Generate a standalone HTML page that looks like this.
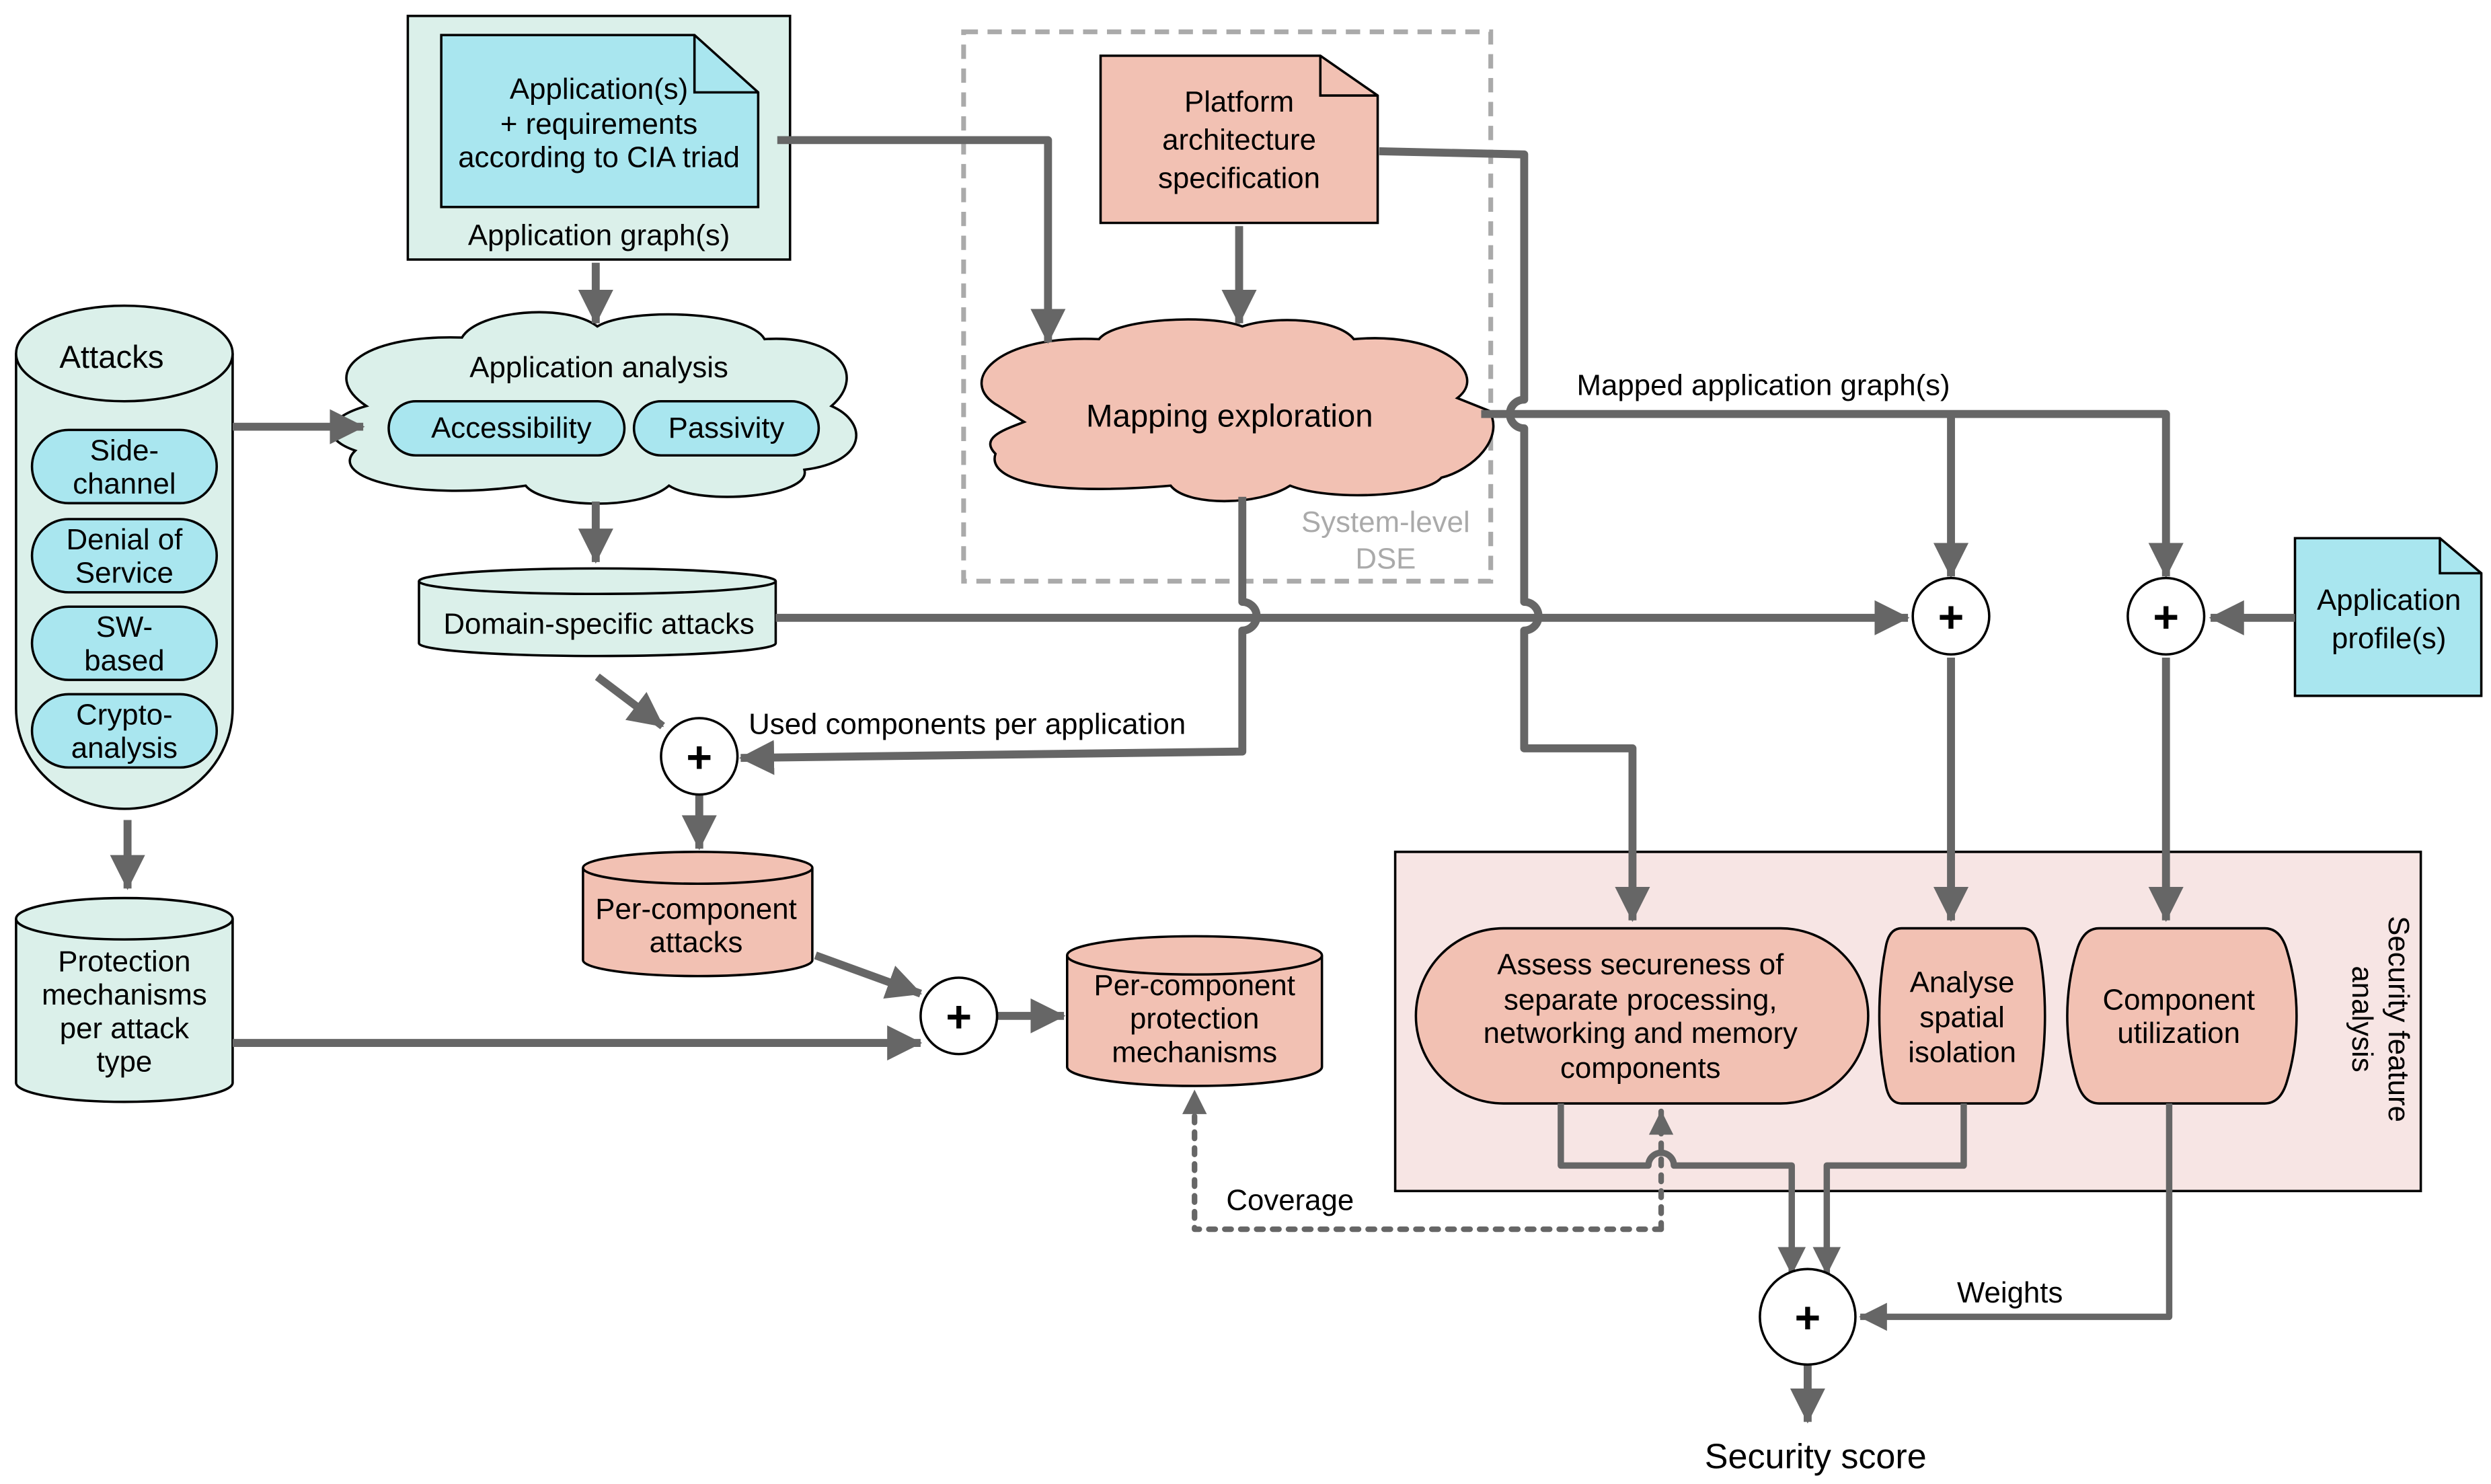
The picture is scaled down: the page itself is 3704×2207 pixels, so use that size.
<!DOCTYPE html>
<html><head><meta charset="utf-8"><style>html,body{margin:0;padding:0;background:#fff}svg{display:block}</style></head>
<body>
<svg width="3704" height="2207" viewBox="0 0 1564 932" xmlns="http://www.w3.org/2000/svg" font-family="Liberation Sans, sans-serif" font-size="18.5" text-anchor="middle">
<defs>
<marker id="a" markerWidth="5" markerHeight="5" refX="4.2" refY="2.5" orient="auto" markerUnits="strokeWidth"><path d="M0,0.3 L4.4,2.5 L0,4.7 Z" fill="#666"/></marker>
</defs>
<g stroke="#000" stroke-width="1.5">
<rect x="605" y="20" width="331" height="345" fill="none" stroke="#aaa" stroke-width="3" stroke-dasharray="9,6"/>
<rect x="256" y="10" width="240" height="153" fill="#dbf0ea"/>
<path d="M277,22 H436 L476,58 V130 H277 Z" fill="#a9e6ef"/>
<path d="M436,22 V58 H476" fill="none"/>
<path d="M691,35 H829 L865,60 V140 H691 Z" fill="#f2c1b3"/>
<path d="M829,35 V60 H865" fill="none"/>
<path d="M1441,338 H1532 L1558,360 V437 H1441 Z" fill="#a9e6ef"/>
<path d="M1532,338 V360 H1558" fill="none"/>
<path d="M10,222 V445 A68,63 0 0 0 146,445 V222" fill="#dbf0ea"/>
<ellipse cx="78" cy="222" rx="68" ry="30" fill="#dbf0ea"/>
<rect x="20" y="270" width="116" height="46" rx="23" fill="#a9e6ef"/>
<rect x="20" y="326" width="116" height="46" rx="23" fill="#a9e6ef"/>
<rect x="20" y="381" width="116" height="46" rx="23" fill="#a9e6ef"/>
<rect x="20" y="436" width="116" height="46" rx="23" fill="#a9e6ef"/>
<path d="M10,577 V680 A68,12 0 0 0 146,680 V577" fill="#dbf0ea"/>
<ellipse cx="78" cy="577" rx="68" ry="13" fill="#dbf0ea"/>
<path d="M263,365 V404 A112,8 0 0 0 487,404 V365" fill="#dbf0ea"/>
<ellipse cx="375" cy="365" rx="112" ry="8" fill="#dbf0ea"/>
<path d="M366,545 V603 A72,10 0 0 0 510,603 V545" fill="#f2c1b3"/>
<ellipse cx="438" cy="545" rx="72" ry="10" fill="#f2c1b3"/>
<path d="M670,600 V670 A80,12 0 0 0 830,670 V600" fill="#f2c1b3"/>
<ellipse cx="750" cy="600" rx="80" ry="12" fill="#f2c1b3"/>
<path d="M230,255 C200,235 225,210 290,212 C300,195 355,190 375,205 C395,193 470,195 480,213 C525,210 545,235 522,255 C545,265 545,290 505,295 C510,312 440,318 420,305 C400,322 340,318 330,305 C260,315 205,300 223,283 C200,275 205,262 230,255 Z" fill="#dbf0ea"/>
<rect x="244" y="252" width="148" height="34" rx="17" fill="#a9e6ef"/>
<rect x="398" y="252" width="116" height="34" rx="17" fill="#a9e6ef"/>
<path d="M627,255 C600,240 625,210 690,213 C700,200 760,197 780,205 C800,198 840,200 850,213 C905,208 935,235 915,250 L935,258 C945,275 925,295 905,300 C895,312 835,315 810,305 C790,318 745,318 735,305 C650,312 620,300 625,285 C615,275 630,270 643,265 Z" fill="#f2c1b3"/>
<rect x="876" y="535" width="644" height="213" fill="#f7e5e4"/>
<rect x="889" y="583" width="284" height="110" rx="55" fill="#f2c1b3"/>
<path d="M1194,583 H1270 Q1278,583 1280,595 Q1284,615 1284,638 Q1284,661 1280,681 Q1278,693 1270,693 H1194 Q1186,693 1184,681 Q1180,661 1180,638 Q1180,615 1184,595 Q1186,583 1194,583 Z" fill="#f2c1b3"/>
<path d="M1318,583 H1422 Q1432,583 1436,597 Q1442,617 1442,638 Q1442,659 1436,679 Q1432,693 1422,693 H1318 Q1308,693 1304,679 Q1298,659 1298,638 Q1298,617 1304,597 Q1308,583 1318,583 Z" fill="#f2c1b3"/>
</g>
<g stroke="#666" stroke-width="5" fill="none" stroke-linejoin="round">
<path d="M374,165 V203" marker-end="url(#a)"/>
<path d="M146,268 H228" marker-end="url(#a)"/>
<path d="M374,315 V353" marker-end="url(#a)"/>
<path d="M80,515 V558" marker-end="url(#a)"/>
<path d="M487,388 H1198" marker-end="url(#a)"/>
<path d="M375,425 L416,456" marker-end="url(#a)"/>
<path d="M780,312 V378 A8,8 0 0 1 780,396 V472 L465,476" marker-end="url(#a)"/>
<path d="M439,499 V533" marker-end="url(#a)"/>
<path d="M512,600 L578,624" marker-end="url(#a)"/>
<path d="M146,655 H578" marker-end="url(#a)"/>
<path d="M626,638 H668" marker-end="url(#a)"/>
<path d="M778,142 V203" marker-end="url(#a)"/>
<path d="M488,88 H658 V215" marker-end="url(#a)"/>
<path d="M866,95 L957,97 V251 A8,8 0 0 0 957,269 V378 A8,8 0 0 1 957,396 V470 H1025 V578" marker-end="url(#a)"/>
<path d="M930,260 H1360 V362" marker-end="url(#a)"/>
<path d="M1225,260 V362" marker-end="url(#a)"/>
<path d="M1441,388 H1388" marker-end="url(#a)"/>
<path d="M1225,413 V578" marker-end="url(#a)"/>
<path d="M1360,413 V578" marker-end="url(#a)"/>
<path d="M980,693 V732 H1035 A8,8 0 0 1 1051,732 H1125 V800" stroke-width="4" marker-end="url(#a)"/>
<path d="M1233,693 V732 H1147 V800" stroke-width="4" marker-end="url(#a)"/>
<path d="M1362,693 V827 H1168" stroke-width="4" marker-end="url(#a)"/>
<path d="M1135,857 V893" marker-end="url(#a)"/>
<path d="M1043,772 H750 V685" stroke-width="3.5" stroke-dasharray="4,6" stroke-linecap="round" marker-end="url(#a)"/>
<path d="M1043,772 V698" stroke-width="3.5" stroke-dasharray="4,6" stroke-linecap="round" marker-end="url(#a)"/>
</g>
<g stroke="#000" stroke-width="1.5" fill="#fff">
<ellipse cx="439" cy="475" rx="24" ry="24"/>
<ellipse cx="602" cy="638" rx="24" ry="24"/>
<ellipse cx="1225" cy="387" rx="24" ry="24"/>
<ellipse cx="1360" cy="387" rx="24" ry="24"/>
<ellipse cx="1135" cy="827" rx="30" ry="30"/>
</g>
<g font-size="28" font-weight="bold" fill="#000">
<text x="439" y="485">+</text><text x="602" y="648">+</text><text x="1225" y="397">+</text><text x="1360" y="397">+</text><text x="1135" y="837">+</text>
</g>
<g fill="#000">
<text x="376" y="62">Application(s)</text>
<text x="376" y="84">+ requirements</text>
<text x="376" y="105">according to CIA triad</text>
<text x="376" y="154">Application graph(s)</text>
<text x="778" y="70">Platform</text>
<text x="778" y="94">architecture</text>
<text x="778" y="118">specification</text>
<text x="70" y="231" font-size="20">Attacks</text>
<text x="78" y="289">Side-</text><text x="78" y="310">channel</text>
<text x="78" y="345">Denial of</text><text x="78" y="366">Service</text>
<text x="78" y="400">SW-</text><text x="78" y="421">based</text>
<text x="78" y="455">Crypto-</text><text x="78" y="476">analysis</text>
<text x="376" y="237">Application analysis</text>
<text x="321" y="275">Accessibility</text>
<text x="456" y="275">Passivity</text>
<text x="772" y="268" font-size="20">Mapping exploration</text>
<text x="870" y="334" fill="#aaa">System-level</text>
<text x="870" y="357" fill="#aaa">DSE</text>
<text x="376" y="398">Domain-specific attacks</text>
<text x="470" y="461" text-anchor="start">Used components per application</text>
<text x="990" y="248" text-anchor="start">Mapped application graph(s)</text>
<text x="1500" y="383">Application</text>
<text x="1500" y="407">profile(s)</text>
<text x="78" y="610">Protection</text><text x="78" y="631">mechanisms</text><text x="78" y="652">per attack</text><text x="78" y="673">type</text>
<text x="437" y="577">Per-component</text><text x="437" y="598">attacks</text>
<text x="750" y="625">Per-component</text><text x="750" y="646">protection</text><text x="750" y="667">mechanisms</text>
<text x="1030" y="612">Assess secureness of</text><text x="1030" y="634">separate processing,</text><text x="1030" y="655">networking and memory</text><text x="1030" y="677">components</text>
<text x="1232" y="623">Analyse</text><text x="1232" y="645">spatial</text><text x="1232" y="667">isolation</text>
<text x="1368" y="634">Component</text><text x="1368" y="655">utilization</text>
<text transform="translate(1500,640) rotate(90)">Security feature</text>
<text transform="translate(1477,640) rotate(90)">analysis</text>
<text x="810" y="760">Coverage</text>
<text x="1262" y="818">Weights</text>
<text x="1140" y="922" font-size="22">Security score</text>
</g>
</svg>
</body></html>
